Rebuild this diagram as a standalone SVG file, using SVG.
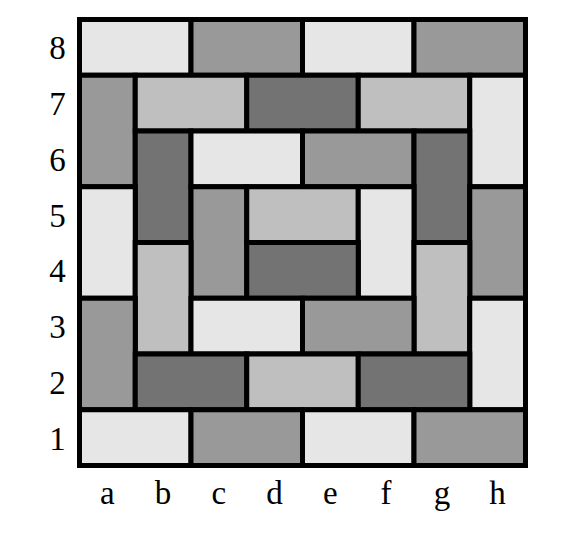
<svg xmlns="http://www.w3.org/2000/svg" width="561" height="540" viewBox="0 0 561 540">
<style>
rect.d{stroke:#000;stroke-width:5}
.l{fill:#e6e6e6}.m{fill:#999999}.s{fill:#bfbfbf}.k{fill:#737373}
text{font-family:"Liberation Serif","DejaVu Serif",serif;font-size:33px;fill:#000;text-anchor:middle}
</style>
<rect width="561" height="540" fill="#fff"/>
<g id="board">
<g id="row8">
<rect class="d l" x="79.5" y="19.5" width="111.5" height="55.75"/>
<rect class="d m" x="191" y="19.5" width="111.5" height="55.75"/>
<rect class="d l" x="302.5" y="19.5" width="111.5" height="55.75"/>
<rect class="d m" x="414" y="19.5" width="111.5" height="55.75"/>
</g>
<g id="row7">
<rect class="d m" x="79.5" y="75.25" width="55.75" height="111.5"/>
<rect class="d s" x="135.25" y="75.25" width="111.5" height="55.75"/>
<rect class="d k" x="246.75" y="75.25" width="111.5" height="55.75"/>
<rect class="d s" x="358.25" y="75.25" width="111.5" height="55.75"/>
<rect class="d l" x="469.75" y="75.25" width="55.75" height="111.5"/>
</g>
<g id="row6">
<rect class="d k" x="135.25" y="131" width="55.75" height="111.5"/>
<rect class="d l" x="191" y="131" width="111.5" height="55.75"/>
<rect class="d m" x="302.5" y="131" width="111.5" height="55.75"/>
<rect class="d k" x="414" y="131" width="55.75" height="111.5"/>
</g>
<g id="row5">
<rect class="d l" x="79.5" y="186.75" width="55.75" height="111.5"/>
<rect class="d m" x="191" y="186.75" width="55.75" height="111.5"/>
<rect class="d s" x="246.75" y="186.75" width="111.5" height="55.75"/>
<rect class="d l" x="358.25" y="186.75" width="55.75" height="111.5"/>
<rect class="d m" x="469.75" y="186.75" width="55.75" height="111.5"/>
</g>
<g id="row4">
<rect class="d s" x="135.25" y="242.5" width="55.75" height="111.5"/>
<rect class="d k" x="246.75" y="242.5" width="111.5" height="55.75"/>
<rect class="d s" x="414" y="242.5" width="55.75" height="111.5"/>
</g>
<g id="row3">
<rect class="d m" x="79.5" y="298.25" width="55.75" height="111.5"/>
<rect class="d l" x="191" y="298.25" width="111.5" height="55.75"/>
<rect class="d m" x="302.5" y="298.25" width="111.5" height="55.75"/>
<rect class="d l" x="469.75" y="298.25" width="55.75" height="111.5"/>
</g>
<g id="row2">
<rect class="d k" x="135.25" y="354" width="111.5" height="55.75"/>
<rect class="d s" x="246.75" y="354" width="111.5" height="55.75"/>
<rect class="d k" x="358.25" y="354" width="111.5" height="55.75"/>
</g>
<g id="row1">
<rect class="d l" x="79.5" y="409.75" width="111.5" height="55.75"/>
<rect class="d m" x="191" y="409.75" width="111.5" height="55.75"/>
<rect class="d l" x="302.5" y="409.75" width="111.5" height="55.75"/>
<rect class="d m" x="414" y="409.75" width="111.5" height="55.75"/>
</g>
</g>
<g id="rank-labels">
<text x="57.5" y="59.3">8</text>
<text x="57.5" y="115">7</text>
<text x="57.5" y="170.8">6</text>
<text x="57.5" y="226.5">5</text>
<text x="57.5" y="282.3">4</text>
<text x="57.5" y="338">3</text>
<text x="57.5" y="393.8">2</text>
<text x="57.5" y="449.5">1</text>
</g>
<g id="file-labels">
<text x="107.4" y="504">a</text>
<text x="163.1" y="504">b</text>
<text x="218.9" y="504">c</text>
<text x="274.6" y="504">d</text>
<text x="330.4" y="504">e</text>
<text x="386.1" y="504">f</text>
<text x="441.9" y="504">g</text>
<text x="497.6" y="504">h</text>
</g>
</svg>
